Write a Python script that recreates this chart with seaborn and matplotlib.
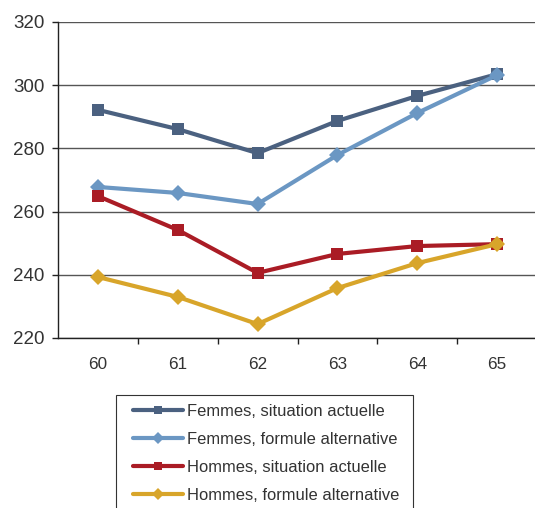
import matplotlib
matplotlib.use("Agg")
import matplotlib.pyplot as plt
from matplotlib.ticker import FixedLocator
from matplotlib.patches import Rectangle
import seaborn as sns
import pandas as pd

# Age de départ et niveaux par série
ages = [60, 61, 62, 63, 64, 65]
femmes_actuelle = [292.2, 286.1, 278.5, 288.7, 296.6, 303.5]
femmes_alternative = [267.8, 265.9, 262.4, 277.9, 291.2, 303.2]
hommes_actuelle = [264.9, 254.2, 240.6, 246.6, 249.1, 249.7]
hommes_alternative = [239.3, 233.0, 224.4, 235.8, 243.7, 249.7]

series_names = [
    "Femmes, situation actuelle",
    "Femmes, formule alternative",
    "Hommes, situation actuelle",
    "Hommes, formule alternative",
]
series_values = [femmes_actuelle, femmes_alternative, hommes_actuelle, hommes_alternative]
y_ticks = [220, 240, 260, 280, 300, 320]

colors = ["#4b6180", "#6b97c3", "#aa1c25", "#d8a52a"]
markers = ["s", "D", "s", "D"]

df = pd.DataFrame(
    [(a, v, name) for name, vals in zip(series_names, series_values) for a, v in zip(ages, vals)],
    columns=["age", "valeur", "serie"],
)

sns.set_style("white")
plt.rcParams["font.family"] = ["Liberation Sans", "DejaVu Sans"]

W, H = 535, 508
fig = plt.figure(figsize=(W / 100, H / 100), dpi=100)
ax = fig.add_axes([58 / W, 1 - 338 / H, 479 / W, 316 / H])

sns.lineplot(
    data=df, x="age", y="valeur", hue="serie", style="serie",
    hue_order=series_names, style_order=series_names,
    palette=dict(zip(series_names, colors)),
    markers=dict(zip(series_names, markers)),
    dashes=False, linewidth=3.0, markersize=8.5,
    markeredgewidth=0, ax=ax, legend=True, zorder=3,
)

ax.set_xlim(59.5, 65.5)
ax.set_ylim(220, 320)
ax.set_yticks(y_ticks)
ax.set_xticks(ages)
ax.xaxis.set_minor_locator(FixedLocator([60.5, 61.5, 62.5, 63.5, 64.5]))
ax.set_xlabel("")
ax.set_ylabel("")

ax.yaxis.grid(True, color="#555555", linewidth=1.0, zorder=0)
ax.set_axisbelow(True)
for side in ["top", "right"]:
    ax.spines[side].set_visible(False)
for side in ["left", "bottom"]:
    ax.spines[side].set_color("#222222")
    ax.spines[side].set_linewidth(1.0)

ax.tick_params(axis="y", which="major", left=True, length=4.3, width=1.0,
               color="#222222", pad=5.5, labelsize=13.5, labelcolor="#333333")
ax.tick_params(axis="x", which="major", bottom=False, length=0, pad=14,
               labelsize=12.3, labelcolor="#333333")
ax.tick_params(axis="x", which="minor", bottom=True, length=4.0, width=1.0,
               color="#222222")

# Cadre de la légende, ouvert vers le bas
fig.add_artist(Rectangle((116 / W, -0.05), (413 - 116) / W, 0.05 + 1 - 395 / H,
                         transform=fig.transFigure, facecolor="white",
                         edgecolor="#333333", linewidth=0.8, zorder=1))

handles, labels = ax.get_legend_handles_labels()
ax.get_legend().remove()
leg = fig.legend(
    handles, labels, loc="upper left",
    bbox_to_anchor=(133 / W, 1 - 403.5 / H),
    frameon=False, fontsize=11.9, handlelength=3.0, handletextpad=0.25,
    labelspacing=0.8, borderpad=0, borderaxespad=0,
)
leg.set_zorder(2)
for t in leg.get_texts():
    t.set_color("#333333")
for line in leg.get_lines():
    line.set_markersize(6)

fig.savefig("out.png", dpi=100)
